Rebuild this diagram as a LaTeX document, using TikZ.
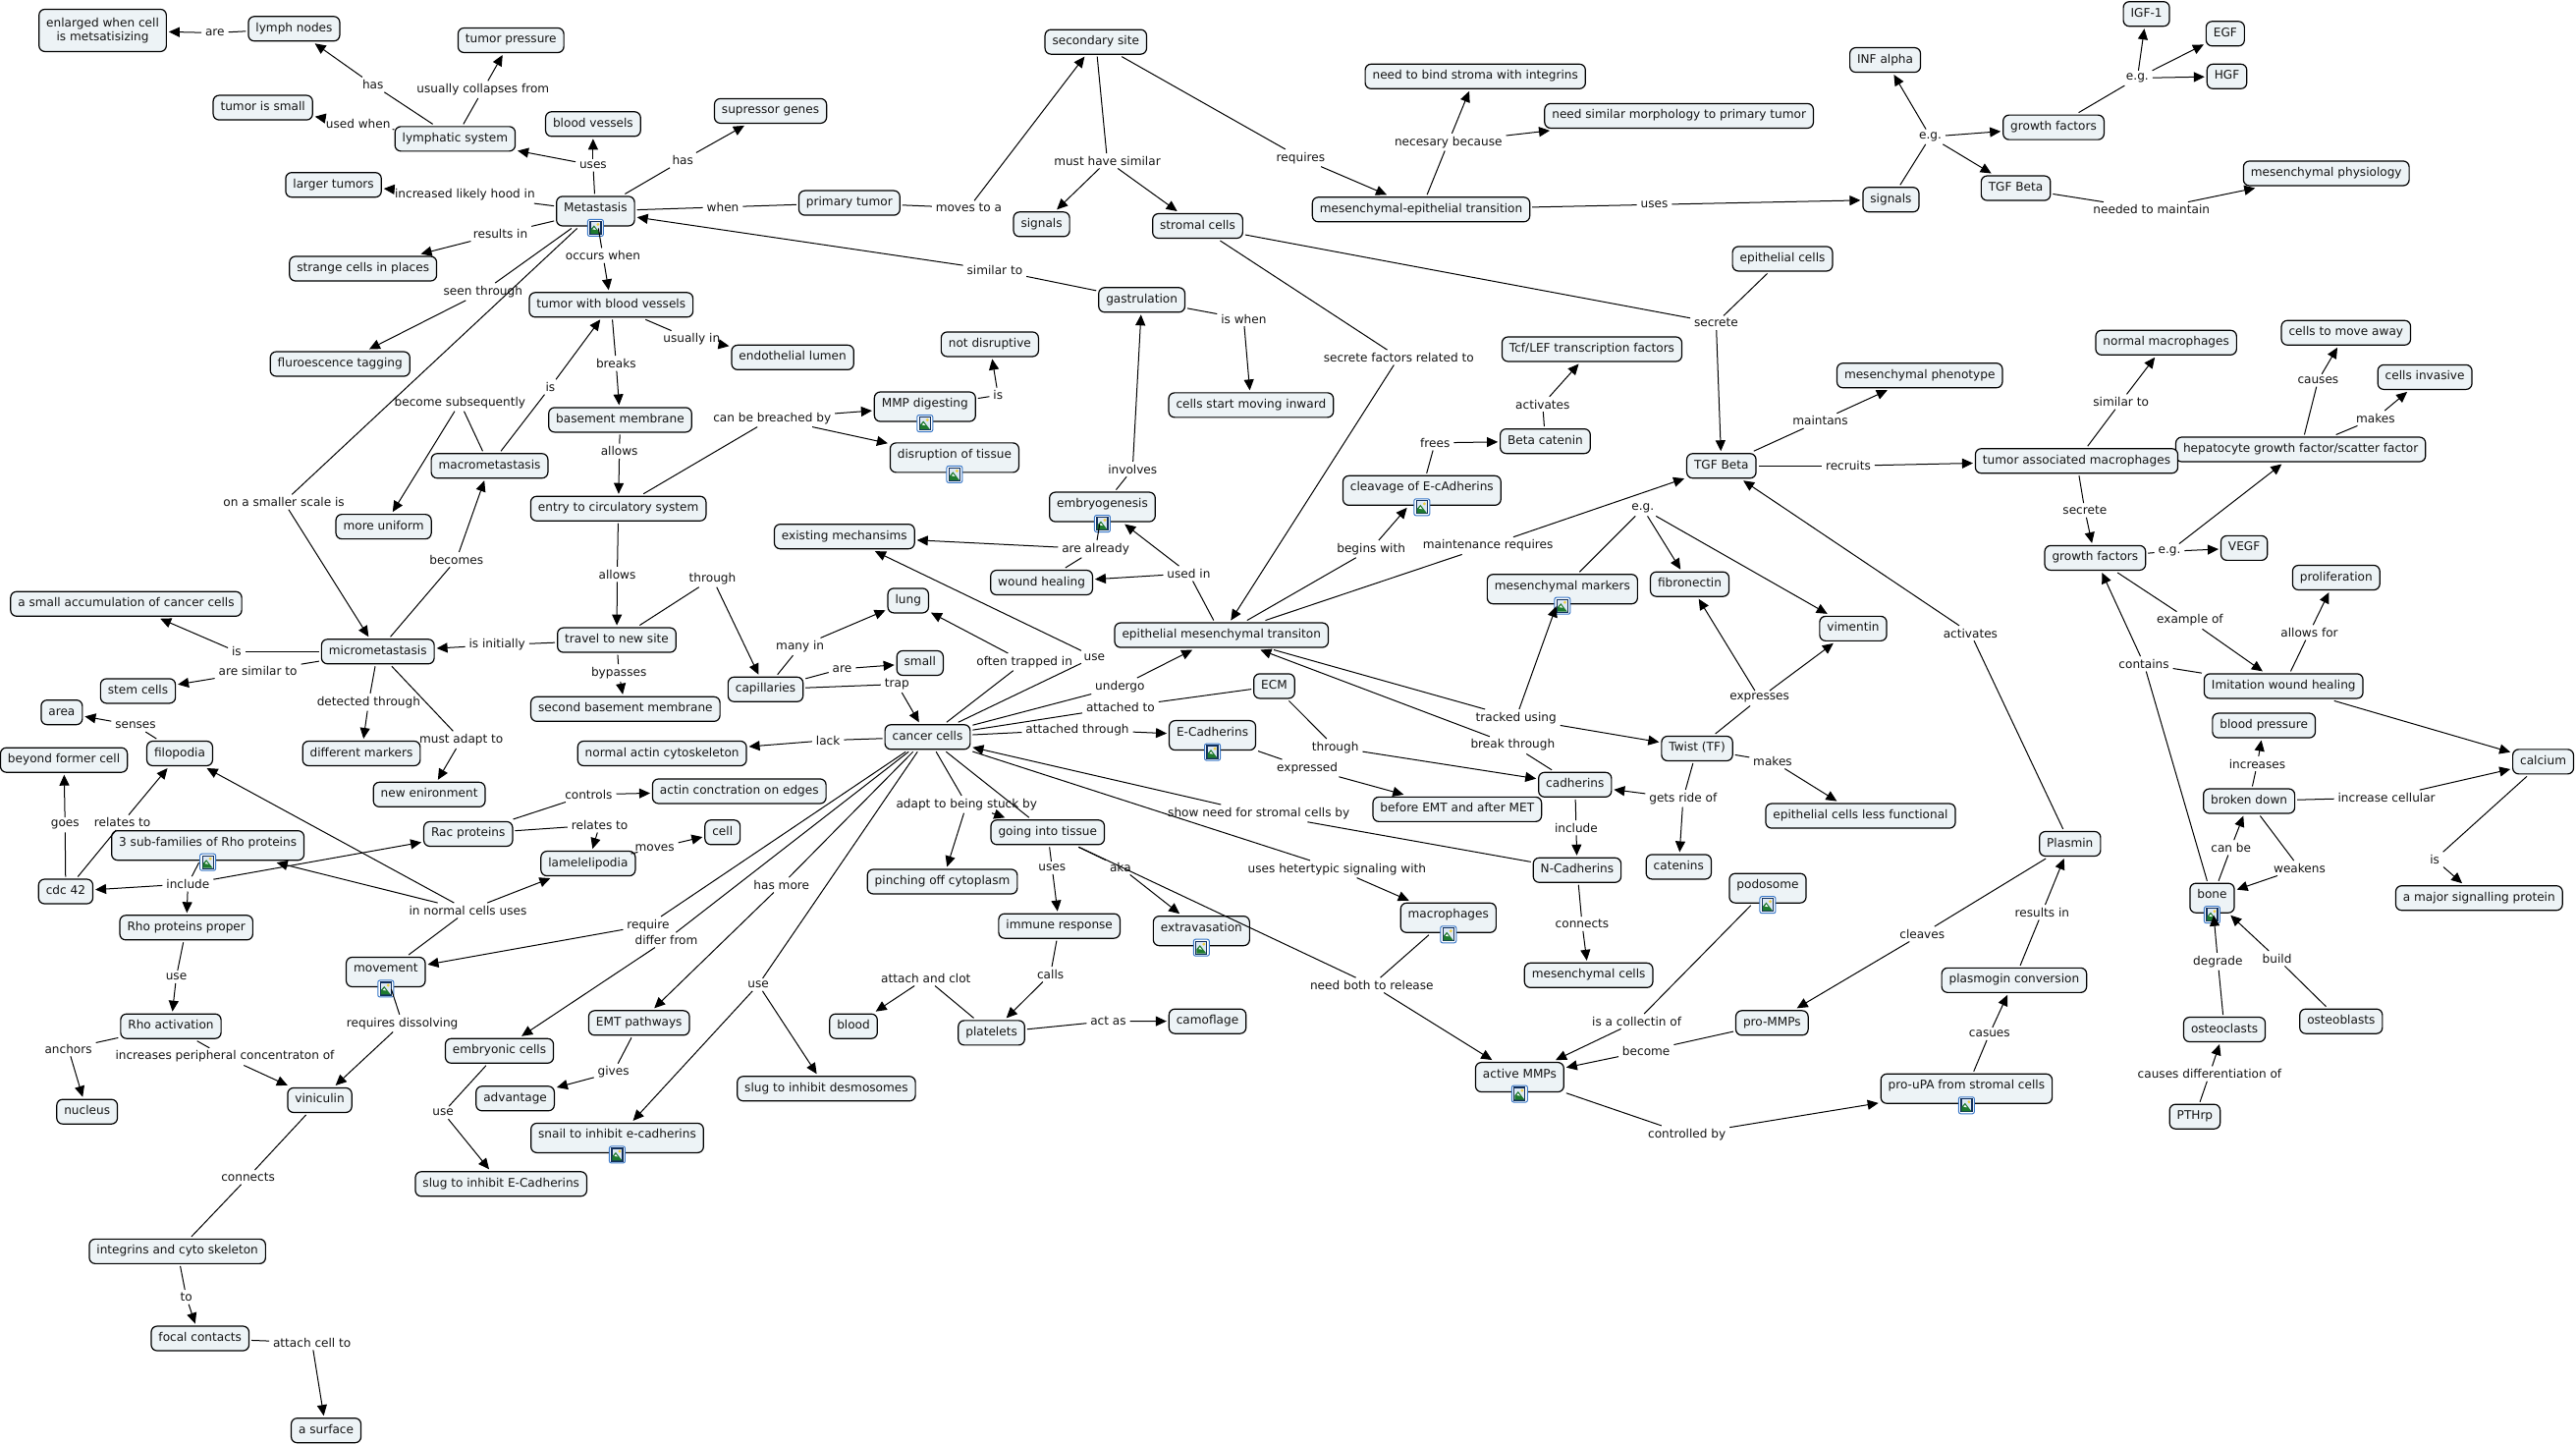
\documentclass[tikz,border=0pt]{standalone}
\usepackage{fontspec}
\setmainfont{DejaVu Sans}
\usetikzlibrary{arrows.meta}
\definecolor{boxfill}{HTML}{EDF3F6}
\definecolor{inkc}{HTML}{141414}
\definecolor{iconblue}{HTML}{3A78C8}
\definecolor{iconnavy}{HTML}{12305C}
\definecolor{icongreen}{HTML}{1F7A2E}
\definecolor{iconsun}{HTML}{F0D040}
\definecolor{iconsky}{HTML}{DDE8F4}
\tikzset{
  concept/.style={draw=black,line width=1.2pt,fill=boxfill,rounded corners=6pt,text=inkc,
    font=\fontsize{12.1pt}{14pt}\selectfont,inner xsep=7.5pt,inner ysep=7pt,outer sep=2.5pt,
    text height=8.5pt,text depth=2.5pt},
  twoline/.style={text height=,text depth=,align=center,minimum height=43pt,inner ysep=4pt},
  iconbox/.style={text depth=7.5pt},
  linkword/.style={font=\fontsize{12.1pt}{14pt}\selectfont,text=inkc,inner xsep=2pt,inner ysep=1pt,outer sep=2pt},
  plainline/.style={draw=black,line width=1pt},
  arrowline/.style={draw=black,line width=1pt,-{Triangle[length=11pt,width=10pt]}},
}
\newcommand{\cpt}[4]{\node[concept] (#1) at (#2,#3) {#4};}
\newcommand{\cpi}[4]{\node[concept,iconbox] (#1) at (#2,#3) {#4};}
\newcommand{\lbw}[4]{\node[linkword] (#1) at (#2,#3) {#4};}
\newcommand{\imgicon}[1]{%
  \begin{scope}[shift={(#1.south)},x=1pt,y=1pt]
    \fill[white,draw=iconblue,line width=1pt,rounded corners=2pt] (-8,-8) rectangle (8,9);
    \fill[iconsky,draw=iconnavy,line width=1.2pt] (-5.5,-6) rectangle (5.5,7);
    \fill[icongreen] (-5,-5.5) -- (-5,-1) -- (-1.5,3) -- (5,-5.5) -- cycle;
    \fill[white] (-3,-1) -- (-1.5,1) -- (0.5,-1.5) -- cycle;
    \fill[iconsun] (2.5,4) circle (1.6);
  \end{scope}}
\begin{document}
\begin{tikzpicture}[x=1.6729pt,y=-1.6729pt]
\useasboundingbox (0,-0.5) rectangle (1568,878.8);
\fill[white] (0,-0.5) rectangle (1568,878.8);
% concepts
\node[concept,twoline] (enlarged) at (62.5,18) {enlarged when cell\\is metsatisizing};
\cpt{lymph}{179}{17}{lymph nodes}
\cpt{tpress}{311}{24}{tumor pressure}
\cpt{tsmall}{160}{65}{tumor is small}
\cpt{lymphatic}{277}{84}{lymphatic system}
\cpt{bvessels}{361}{75}{blood vessels}
\cpt{supressor}{469}{67}{supressor genes}
\cpt{larger}{203}{112}{larger tumors}
\cpi{metastasis}{362.5}{128}{Metastasis}
\cpt{strange}{221}{163}{strange cells in places}
\cpt{fluor}{207}{221}{fluroescence tagging}
\cpt{tumorbv}{372}{185}{tumor with blood vessels}
\cpt{endo}{482.5}{217}{endothelial lumen}
\cpt{basement}{377.5}{255}{basement membrane}
\cpt{macro}{298}{283}{macrometastasis}
\cpt{uniform}{233.5}{320}{more uniform}
\cpt{entry}{376.4}{309}{entry to circulatory system}
\cpt{primary}{517}{123}{primary tumor}
\cpt{secondary}{667}{25}{secondary site}
\cpt{signalsa}{634}{136}{signals}
\cpt{stromal}{729}{137}{stromal cells}
\cpt{met}{865}{127}{mesenchymal-epithelial transition}
\cpt{needbind}{898}{46}{need to bind stroma with integrins}
\cpt{needsim}{1022}{70}{need similar morphology to primary tumor}
\cpt{signalsb}{1151}{121}{signals}
\cpt{inf}{1147.5}{36}{INF alpha}
\cpt{gfa}{1250}{77}{growth factors}
\cpt{igf}{1306.5}{8}{IGF-1}
\cpt{egf}{1354.5}{20}{EGF}
\cpt{hgf}{1355.5}{46}{HGF}
\cpt{tgfb}{1227}{114}{TGF Beta}
\cpt{mesphys}{1416}{105}{mesenchymal physiology}
\cpt{epicells}{1085}{157}{epithelial cells}
\cpt{gastr}{695}{182}{gastrulation}
\cpt{notdis}{602.5}{209}{not disruptive}
\cpi{mmpdig}{563}{247}{MMP digesting}
\cpi{disrupt}{581}{278}{disruption of tissue}
\cpt{cellsstart}{761.5}{246}{cells start moving inward}
\cpt{tcf}{969}{212}{Tcf/LEF transcription factors}
\cpt{beta}{940.6}{268}{Beta catenin}
\cpt{tgf}{1047.8}{283}{TGF Beta}
\cpt{mesphen}{1168.5}{228}{mesenchymal phenotype}
\cpt{normmac}{1318.5}{208}{normal macrophages}
\cpt{cellsmove}{1428}{202}{cells to move away}
\cpt{cellsinv}{1476}{229}{cells invasive}
\cpt{hepa}{1400.4}{273}{hepatocyte growth factor/scatter factor}
\cpt{tam}{1264}{280}{tumor associated macrophages}
\cpt{gfb}{1275.3}{339}{growth factors}
\cpt{vegf}{1366}{333}{VEGF}
\cpt{prolif}{1422}{351}{proliferation}
\cpt{imit}{1390}{417}{Imitation wound healing}
\cpt{bpress}{1378}{441}{blood pressure}
\cpt{calcium}{1548}{463}{calcium}
\cpt{broken}{1369}{487}{broken down}
\cpi{bone}{1346.5}{546}{bone}
\cpt{major}{1509}{546}{a major signalling protein}
\cpt{oclasts}{1354}{626}{osteoclasts}
\cpt{oblasts}{1425}{621}{osteoblasts}
\cpt{pthrp}{1336}{679}{PTHrp}
\cpt{plasmin}{1260}{513}{Plasmin}
\cpt{plasmogin}{1226}{596}{plasmogin conversion}
\cpi{prou}{1197}{662}{pro-uPA from stromal cells}
\cpt{prommp}{1078.6}{622}{pro-MMPs}
\cpi{podosome}{1076}{540}{podosome}
\cpi{activemm}{925}{655}{active MMPs}
\cpi{cleavage}{865.5}{298}{cleavage of E-cAdherins}
\cpi{embryo}{671}{308}{embryogenesis}
\cpt{existing}{514}{326}{existing mechansims}
\cpt{wound}{634}{354}{wound healing}
\cpt{emt}{743.5}{386}{epithelial mesenchymal transiton}
\cpi{mesmark}{951}{358}{mesenchymal markers}
\cpt{fibro}{1028.5}{355}{fibronectin}
\cpt{vimentin}{1128}{382}{vimentin}
\cpt{twist}{1033}{455}{Twist (TF)}
\cpt{ecm}{775.6}{417}{ECM}
\cpi{ecad}{738}{447}{E-Cadherins}
\cpt{cadherins}{958.7}{477}{cadherins}
\cpt{before}{887}{492}{before EMT and after MET}
\cpt{epless}{1132.5}{496}{epithelial cells less functional}
\cpt{catenins}{1021.8}{527}{catenins}
\cpt{ncad}{960}{529}{N-Cadherins}
\cpt{mescells}{967}{593}{mesenchymal cells}
\cpi{macroph}{881.6}{558}{macrophages}
\cpt{going}{637.7}{506}{going into tissue}
\cpt{pinch}{573.6}{536}{pinching off cytoplasm}
\cpt{immune}{644.8}{563}{immune response}
\cpi{extrav}{731.3}{566}{extravasation}
\cpt{platelets}{603.5}{628}{platelets}
\cpt{camo}{735}{621}{camoflage}
\cpt{blood}{519.5}{624}{blood}
\cpt{emtpath}{389}{622}{EMT pathways}
\cpt{embryonic}{304}{639}{embryonic cells}
\cpt{advantage}{313.6}{668}{advantage}
\cpt{slugdes}{503}{662}{slug to inhibit desmosomes}
\cpi{snail}{375.7}{692}{snail to inhibit e-cadherins}
\cpt{slugE}{305}{720}{slug to inhibit E-Cadherins}
\cpt{cancer}{564.6}{448}{cancer cells}
\cpt{lung}{552.8}{365}{lung}
\cpt{small}{560}{403}{small}
\cpt{capillaries}{466}{419}{capillaries}
\cpt{travel}{375.4}{389}{travel to new site}
\cpt{second}{380.7}{431}{second basement membrane}
\cpt{normactin}{403}{458}{normal actin cytoskeleton}
\cpt{actinconc}{450}{481}{actin conctration on edges}
\cpt{micro}{230}{396}{micrometastasis}
\cpt{smallacc}{76.8}{367}{a small accumulation of cancer cells}
\cpt{stem}{84}{420}{stem cells}
\cpt{area}{37.6}{433}{area}
\cpt{filopodia}{109.4}{458}{filopodia}
\cpt{beyond}{38.9}{462}{beyond former cell}
\cpt{diffm}{220}{458}{different markers}
\cpt{newenv}{261.3}{483}{new enironment}
\cpt{rac}{285}{507}{Rac proteins}
\cpt{cell}{439.8}{506}{cell}
\cpt{lamel}{358}{525}{lamelelipodia}
\cpi{subf}{126.5}{514}{3 sub-families of Rho proteins}
\cpt{cdc}{40}{542}{cdc 42}
\cpt{rhoproper}{113.4}{564}{Rho proteins proper}
\cpi{movement}{234.8}{591}{movement}
\cpt{rhoact}{104}{624}{Rho activation}
\cpt{nucleus}{53}{676}{nucleus}
\cpt{viniculin}{194.6}{669}{viniculin}
\cpt{integrins}{108}{761}{integrins and cyto skeleton}
\cpt{focal}{121.8}{814}{focal contacts}
\cpt{surface}{198.5}{870}{a surface}
\foreach \n in {metastasis,mmpdig,disrupt,bone,prou,podosome,activemm,cleavage,embryo,mesmark,ecad,macroph,extrav,snail,subf,movement}{\imgicon{\n}}
% linking words
\lbw{Lare}{130.8}{19.5}{are}
\lbw{Lhasa}{227}{51}{has}
\lbw{Lcollapse}{294}{54}{usually collapses from}
\lbw{Lusedwhen}{218}{75}{used when}
\lbw{Luses}{361}{100}{uses}
\lbw{Lhasb}{415.6}{97}{has}
\lbw{Llikely}{283}{118}{increased likely hood in}
\lbw{Lwhen}{440}{125.5}{when}
\lbw{Lresultsa}{304.6}{141.7}{results in}
\lbw{Lseen}{294}{177}{seen through}
\lbw{Loccurs}{367}{155}{occurs when}
\lbw{Lisa}{335}{235}{is}
\lbw{Lbecome}{280}{244.5}{become subsequently}
\lbw{Lbreaks}{375}{220.6}{breaks}
\lbw{Lusually}{421}{206}{usually in}
\lbw{Lallowsa}{377}{274}{allows}
\lbw{Lbreached}{470}{254}{can be breached by}
\lbw{Lmoves}{589.7}{126}{moves to a}
\lbw{Lmust}{674}{97.4}{must have similar}
\lbw{Lrequires}{791.7}{95.6}{requires}
\lbw{Lnecesary}{881.6}{86}{necesary because}
\lbw{Lusesb}{1007}{124}{uses}
\lbw{Lsimilara}{605.5}{163.8}{similar to}
\lbw{Liswhen}{757}{193.5}{is when}
\lbw{Lfactors}{851.4}{217}{secrete factors related to}
\lbw{Lisb}{607.5}{240}{is}
\lbw{Linvolves}{689.4}{285}{involves}
\lbw{Lactivatesa}{939}{245.5}{activates}
\lbw{Lfrees}{873.5}{269}{frees}
\lbw{Lsecretea}{1044.6}{196}{secrete}
\lbw{Legb}{1175}{82.7}{e.g.}
\lbw{Legc}{1301}{47}{e.g.}
\lbw{Lneeded}{1309.6}{127}{needed to maintain}
\lbw{Lmaintans}{1108}{255.6}{maintans}
\lbw{Lrecruits}{1125}{283}{recruits}
\lbw{Lsimilarb}{1291}{244}{similar to}
\lbw{Lcauses}{1411}{231}{causes}
\lbw{Lmakesa}{1446}{254}{makes}
\lbw{Lscale}{172.8}{305}{on a smaller scale is}
\lbw{Lbecomes}{277.8}{340}{becomes}
\lbw{Lallowsb}{375.7}{349}{allows}
\lbw{Lthrough}{433.7}{351.5}{through}
\lbw{Lmany}{487}{393}{many in}
\lbw{Larec}{512.6}{406.5}{are}
\lbw{Lisc}{144}{396}{is}
\lbw{Linitially}{302.6}{392}{is initially}
\lbw{Lsimilarc}{157}{408}{are similar to}
\lbw{Lbypasses}{376.7}{409}{bypasses}
\lbw{Ldetected}{224.4}{426.8}{detected through}
\lbw{Lsenses}{82.5}{441}{senses}
\lbw{Ladapt}{280.8}{449.7}{must adapt to}
\lbw{Llack}{504}{450}{lack}
\lbw{Lcontrols}{358.3}{483}{controls}
\lbw{Lgoes}{39.6}{501.5}{goes}
\lbw{Lrelatesa}{74.5}{500}{relates to}
\lbw{Lrelatesb}{365}{501.5}{relates to}
\lbw{Lmovesb}{398.5}{515.7}{moves}
\lbw{Linclude}{114.4}{537.4}{include}
\lbw{Lnormal}{284.8}{553.5}{in normal cells uses}
\lbw{Lrequire}{394.5}{562.5}{require}
\lbw{Ldiffer}{405.6}{571.5}{differ from}
\lbw{Lhasmore}{475.7}{538}{has more}
\lbw{Lusec}{107.3}{594}{use}
\lbw{Lalready}{666.9}{333.6}{are already}
\lbw{Lusedin}{723.6}{348.5}{used in}
\lbw{Lbegins}{834.6}{333.6}{begins with}
\lbw{Lmaint}{905.7}{331.6}{maintenance requires}
\lbw{Lega}{1000}{309}{e.g.}
\lbw{Ltrapped}{623.6}{402.3}{often trapped in}
\lbw{Lused}{666.2}{399.3}{use}
\lbw{Ltrap}{546}{415.9}{trap}
\lbw{Lundergo}{681.7}{417.3}{undergo}
\lbw{Lattacheda}{682}{429.8}{attached to}
\lbw{Lattachedb}{655.8}{443.5}{attached through}
\lbw{Ltracked}{922.8}{436.4}{tracked using}
\lbw{Lthroughb}{812.8}{454.3}{through}
\lbw{Lbreak}{920.8}{453}{break through}
\lbw{Lexpressed}{795.7}{466.9}{expressed}
\lbw{Lstuck}{588.4}{489}{adapt to being stuck by}
\lbw{Lshow}{766.2}{494.4}{show need for stromal cells by}
\lbw{Lgets}{1024.5}{485.4}{gets ride of}
\lbw{Lincludeb}{959.4}{503.3}{include}
\lbw{Lusese}{640.4}{527.6}{uses}
\lbw{Laka}{682}{527.2}{aka}
\lbw{Lhetero}{813.8}{528.4}{uses hetertypic signaling with}
\lbw{Lconnectsa}{963}{561.7}{connects}
\lbw{Lcalls}{639.4}{592.4}{calls}
\lbw{Lclot}{563.6}{594.8}{attach and clot}
\lbw{Lneedboth}{835}{599}{need both to release}
\lbw{Lactas}{674.6}{620.9}{act as}
\lbw{Lcollect}{996.3}{621}{is a collectin of}
\lbw{Lbecomeb}{1002}{639}{become}
\lbw{Lcontrolled}{1026.8}{689.8}{controlled by}
\lbw{Lsecreteb}{1269}{310}{secrete}
\lbw{Legd}{1320.5}{335}{e.g.}
\lbw{Lexpresses}{1071}{424.4}{expresses}
\lbw{Lactivatesb}{1199.4}{384.8}{activates}
\lbw{Lexample}{1333}{377}{example of}
\lbw{Lallowsfor}{1405.7}{384.4}{allows for}
\lbw{Lcontains}{1305}{403.5}{contains}
\lbw{Lincreases}{1374}{464.3}{increases}
\lbw{Lmakesb}{1079}{462.7}{makes}
\lbw{Lcellular}{1452.7}{484.8}{increase cellular}
\lbw{Lcanbe}{1358}{515.3}{can be}
\lbw{Lweakens}{1399.7}{527.8}{weakens}
\lbw{Lisd}{1482}{522.5}{is}
\lbw{Lresultsb}{1243}{554.7}{results in}
\lbw{Lcleaves}{1170}{567.9}{cleaves}
\lbw{Ldegrade}{1350}{584.6}{degrade}
\lbw{Lbuild}{1386}{582.8}{build}
\lbw{Lcasues}{1211}{628.6}{casues}
\lbw{Ldiffn}{1345}{652.9}{causes differentiation of}
\lbw{Ldissolve}{244.9}{622.2}{requires dissolving}
\lbw{Lanchors}{41.6}{637.7}{anchors}
\lbw{Lperiph}{136.9}{642.5}{increases peripheral concentraton of}
\lbw{Lgives}{373.4}{652}{gives}
\lbw{Luseb}{269.7}{676.6}{use}
\lbw{Lusea}{461.6}{598.7}{use}
\lbw{Lconnectsb}{151}{715.9}{connects}
\lbw{Lto}{113.4}{788.8}{to}
\lbw{Lattach}{189.9}{816.5}{attach cell to}
% connectors
\begin{scope}
\foreach \a/\b in {lymph/Lare,lymphatic/Lhasa,lymphatic/Lcollapse,lymphatic/Lusedwhen,metastasis/Luses,metastasis/Lhasb,metastasis/Llikely,metastasis/Lresultsa,metastasis/Lseen,metastasis/Loccurs,metastasis/Lscale,metastasis/Lwhen,primary/Lwhen,primary/Lmoves,secondary/Lmust,secondary/Lrequires,met/Lnecesary,met/Lusesb,signalsb/Legb,gfa/Legc,tgfb/Lneeded,stromal/Lsecretea,epicells/Lsecretea,stromal/Lfactors,gastr/Lsimilara,gastr/Liswhen,embryo/Linvolves,mmpdig/Lisb,entry/Lbreached,tumorbv/Lusually,tumorbv/Lbreaks,basement/Lallowsa,macro/Lisa,macro/Lbecome,micro/Lbecomes,entry/Lallowsb,travel/Linitially,travel/Lthrough,travel/Lbypasses,capillaries/Lmany,capillaries/Larec,capillaries/Ltrap,micro/Lisc,micro/Lsimilarc,micro/Ldetected,micro/Ladapt,filopodia/Lsenses,cdc/Lgoes,cdc/Lrelatesa,subf/Linclude,rac/Lcontrols,rac/Lrelatesb,lamel/Lmovesb,movement/Lnormal,cancer/Lrequire,cancer/Ldiffer,cancer/Lhasmore,cancer/Lusea,cancer/Llack,emtpath/Lgives,embryonic/Luseb,movement/Ldissolve,rhoproper/Lusec,rhoact/Lanchors,rhoact/Lperiph,viniculin/Lconnectsb,Lconnectsb/integrins,integrins/Lto,focal/Lattach,cancer/Ltrapped,cancer/Lused,cancer/Lundergo,cancer/Lattacheda,ecm/Lattacheda,cancer/Lattachedb,ecad/Lexpressed,ecm/Lthroughb,cancer/Lstuck,cancer/going,going/Lusese,going/Laka,immune/Lcalls,platelets/Lclot,platelets/Lactas,going/Lneedboth,macroph/Lneedboth,cancer/Lhetero,ncad/Lshow,cadherins/Lincludeb,ncad/Lconnectsa,twist/Lgets,cadherins/Lbreak,emt/Ltracked,emt/Lusedin,emt/Lbegins,emt/Lmaint,embryo/Lalready,wound/Lalready,mesmark/Lega,cleavage/Lfrees,beta/Lactivatesa,tgf/Lmaintans,tgf/Lrecruits,plasmin/Lactivatesb,tam/Lsimilarb,tam/Lsecreteb,hepa/Lcauses,hepa/Lmakesa,gfb/Legd,gfb/Lexample,imit/Lallowsfor,imit/Lcontains,bone/Lcontains,broken/Lincreases,broken/Lcellular,broken/Lweakens,bone/Lcanbe,oclasts/Ldegrade,oblasts/Lbuild,pthrp/Ldiffn,calcium/Lisd,twist/Lexpresses,twist/Lmakesb,plasmin/Lcleaves,plasmogin/Lresultsb,prou/Lcasues,activemm/Lcontrolled,prommp/Lbecomeb,podosome/Lcollect}
  {\draw[plainline] (\a) -- (\b);}
\foreach \a/\b in {Lare/enlarged,Lhasa/lymph,Lcollapse/tpress,Lusedwhen/tsmall,Luses/lymphatic,Luses/bvessels,Lhasb/supressor,Llikely/larger,Lresultsa/strange,Lseen/fluor,Loccurs/tumorbv,Lscale/micro,Lmoves/secondary,Lmust/signalsa,Lmust/stromal,Lrequires/met,Lnecesary/needbind,Lnecesary/needsim,Lusesb/signalsb,Legb/inf,Legb/gfa,Legb/tgfb,Legc/igf,Legc/egf,Legc/hgf,Lneeded/mesphys,Lsecretea/tgf,Lfactors/emt,Lsimilara/metastasis,Liswhen/cellsstart,Linvolves/gastr,Lisb/notdis,Lbreached/mmpdig,Lbreached/disrupt,Lusually/endo,Lbreaks/basement,Lallowsa/entry,Lisa/tumorbv,Lbecome/uniform,Lbecomes/macro,Lallowsb/travel,Linitially/micro,Lthrough/capillaries,Lbypasses/second,Lmany/lung,Larec/small,Ltrap/cancer,Lisc/smallacc,Lsimilarc/stem,Ldetected/diffm,Ladapt/newenv,Lsenses/area,Lgoes/beyond,Lrelatesa/filopodia,Linclude/cdc,Linclude/rhoproper,Linclude/rac,Lcontrols/actinconc,Lrelatesb/lamel,Lmovesb/cell,Lnormal/subf,Lnormal/filopodia,Lnormal/lamel,Lrequire/movement,Ldiffer/embryonic,Lhasmore/emtpath,Lusea/snail,Lusea/slugdes,Llack/normactin,Lgives/advantage,Luseb/slugE,Ldissolve/viniculin,Lusec/rhoact,Lanchors/nucleus,Lperiph/viniculin,Lto/focal,Lattach/surface,Ltrapped/lung,Lused/existing,Lundergo/emt,Lattachedb/ecad,Lexpressed/before,Lthroughb/cadherins,Lstuck/pinch,Lstuck/going,Lusese/immune,Laka/extrav,Lcalls/platelets,Lclot/blood,Lactas/camo,Lneedboth/activemm,Lhetero/macroph,Lshow/cancer,Lincludeb/ncad,Lconnectsa/mescells,Lgets/cadherins,Lgets/catenins,Lbreak/emt,Ltracked/mesmark,Ltracked/twist,Lusedin/embryo,Lusedin/wound,Lbegins/cleavage,Lmaint/tgf,Lalready/existing,Lega/fibro,Lega/vimentin,Lfrees/beta,Lactivatesa/tcf,Lmaintans/mesphen,Lrecruits/tam,Lactivatesb/tgf,Lsimilarb/normmac,Lsecreteb/gfb,Lcauses/cellsmove,Lmakesa/cellsinv,Legd/vegf,Legd/hepa,Lexample/imit,Lallowsfor/prolif,Lcontains/gfb,imit/calcium,Lincreases/bpress,Lcellular/calcium,Lweakens/bone,Lcanbe/broken,Ldegrade/bone,Lbuild/bone,Ldiffn/oclasts,Lisd/major,Lexpresses/fibro,Lexpresses/vimentin,Lmakesb/epless,Lcleaves/prommp,Lresultsb/plasmin,Lcasues/plasmogin,Lcontrolled/prou,Lbecomeb/activemm,Lcollect/activemm}
  {\draw[arrowline] (\a) -- (\b);}
\end{scope}
\end{tikzpicture}
\end{document}
